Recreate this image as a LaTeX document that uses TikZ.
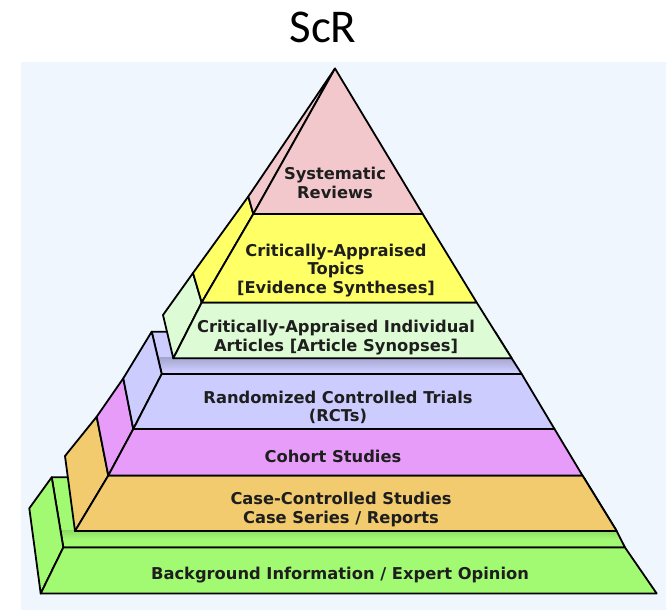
\documentclass[tikz,border=0pt]{standalone}
\usepackage{fontspec}
\setmainfont{DejaVu Sans}
\newfontfamily\titlefont{Carlito}
\definecolor{bgblue}{HTML}{EFF6FE}
\definecolor{pinkL}{HTML}{F2C8CC}
\definecolor{yellowL}{HTML}{FFFF66}
\definecolor{lgreenL}{HTML}{DDFBD5}
\definecolor{blueL}{HTML}{CCCCFF}
\definecolor{magentaL}{HTML}{E89CFA}
\definecolor{orangeL}{HTML}{F2CB6E}
\definecolor{greenL}{HTML}{A2F972}
\definecolor{txt}{HTML}{1E1E1E}
\begin{document}
\begin{tikzpicture}[x=1pt,y=-1pt,
  face/.style={draw=black, line width=1.8pt, line join=round},
  lbl/.style={font=\bfseries\fontsize{16.3}{18.8}\selectfont, text=txt,
              align=center, inner sep=0pt}]
\useasboundingbox (0,0) rectangle (666,612);
\fill[white] (0,0) rectangle (666,612);
\fill[bgblue] (20.5,62) rectangle (666,610);

% ---- bottom layer: background information
\coordinate (gBL) at (51.7,477.3);
\coordinate (gTL) at (63.3,547.5);
\coordinate (gTR) at (625,547.5);
\coordinate (gBotL) at (40.7,593.5);
\coordinate (gBotR) at (656.7,593.5);
\coordinate (gBack) at (29.3,508.3);
% corners of the layer above, needed for the ledge outline
\coordinate (oTL) at (108.3,475.5);
\coordinate (oTR) at (582.5,475.5);
\coordinate (oBL) at (75,531);
\coordinate (oBR) at (616.7,531);
\coordinate (gBR) at (583.7,477.3);
\path[fill=greenL] (gBL) -- (gTL) -- (gTR) -- (oBR) -- (gBR) -- cycle;
\begin{scope}
  \clip (gBL) -- (gTL) -- (gTR) -- (oBR) -- (gBR) -- cycle;
  \shade[top color=greenL!88!black, bottom color=greenL] (0,530) rectangle (666,539);
\end{scope}
\path[face] (gBL) -- (gTL) -- (gTR) -- (oBR) -- (gBR) -- cycle;
\path[face, fill=greenL] (gTL) -- (gBL) -- (gBack) -- (gBotL) -- cycle;
\path[face, fill=greenL] (gTL) -- (gTR) -- (gBotR) -- (gBotL) -- cycle;

% ---- case-controlled layer
\coordinate (oBackT) at (96.7,416.7);
\coordinate (oBackB) at (65,456);
\path[face, fill=orangeL] (oTL) -- (oBackT) -- (oBackB) -- (oBL) -- cycle;
\path[face, fill=orangeL] (oTL) -- (oTR) -- (oBR) -- (oBL) -- cycle;

% ---- cohort layer
\coordinate (mTL) at (133.3,429);
\coordinate (mTR) at (554.5,429);
\coordinate (mBackT) at (123.3,378.3);
\path[face, fill=magentaL] (mTL) -- (mBackT) -- (oBackT) -- (oTL) -- cycle;
\path[face, fill=magentaL] (mTL) -- (mTR) -- (oTR) -- (oTL) -- cycle;

% ---- randomized trials layer, with its visible top ledge
\coordinate (lTL) at (201.7,302.5);
\coordinate (lTR) at (476.7,302.5);
\coordinate (lBL) at (173.3,358.3);
\coordinate (lBR) at (511.7,358.3);
\coordinate (bBL) at (151.7,331.7);
\coordinate (bBR) at (495,331.7);
\coordinate (bTL) at (161.7,374);
\coordinate (bTR) at (521.7,374);
\path[fill=blueL] (bBL) -- (bTL) -- (bTR) -- (lBR) -- (bBR) -- cycle;
\begin{scope}
  \clip (bBL) -- (bTL) -- (bTR) -- (lBR) -- (bBR) -- cycle;
  \shade[top color=blueL!80!black, bottom color=blueL] (0,357) rectangle (666,371);
\end{scope}
\path[face] (bBL) -- (bTL) -- (bTR) -- (lBR) -- (bBR) -- cycle;
\path[face, fill=blueL] (bTL) -- (bBL) -- (mBackT) -- (mTL) -- cycle;
\path[face, fill=blueL] (bTL) -- (bTR) -- (mTR) -- (mTL) -- cycle;

% ---- critically-appraised articles layer
\coordinate (lBackT) at (193,273);
\coordinate (lBackB) at (163,315);
\path[face, fill=lgreenL] (lTL) -- (lBackT) -- (lBackB) -- (lBL) -- cycle;
\path[face, fill=lgreenL] (lTL) -- (lTR) -- (lBR) -- (lBL) -- cycle;

% ---- critically-appraised topics layer
\coordinate (yTL) at (253.3,214);
\coordinate (yTR) at (422.7,214);
\coordinate (yBackT) at (248.3,196.5);
\path[face, fill=yellowL] (yTL) -- (yBackT) -- (lBackT) -- (lTL) -- cycle;
\path[face, fill=yellowL] (yTL) -- (yTR) -- (lTR) -- (lTL) -- cycle;

% ---- apex: systematic reviews
\coordinate (apex) at (335,68.5);
\path[face, fill=pinkL] (apex) -- (yBackT) -- (yTL) -- cycle;
\path[face, fill=pinkL] (apex) -- (yTR) -- (yTL) -- cycle;

% ---- labels
\node[font=\titlefont\fontsize{47}{50}\selectfont, anchor=base, inner sep=0pt] (title) at (323,42.7) {ScR};
\node[lbl] (sr)  at (335,182.6) {Systematic\\Reviews};
\node[lbl] (cat) at (336,270.5) {Critically-Appraised\\Topics\\{}[Evidence Syntheses]};
\node[lbl] (cai) at (336,337.5) {Critically-Appraised Individual\\Articles [Article Synopses]};
\node[lbl] (rct) at (338,407.3) {Randomized Controlled Trials\\(RCTs)};
\node[lbl] (coh) at (333,456.7) {Cohort Studies};
\node[lbl] (ccs) at (341,509.2) {Case-Controlled Studies\\Case Series / Reports};
\node[lbl] (bge) at (340,575) {Background Information / Expert Opinion};
\end{tikzpicture}
\end{document}
